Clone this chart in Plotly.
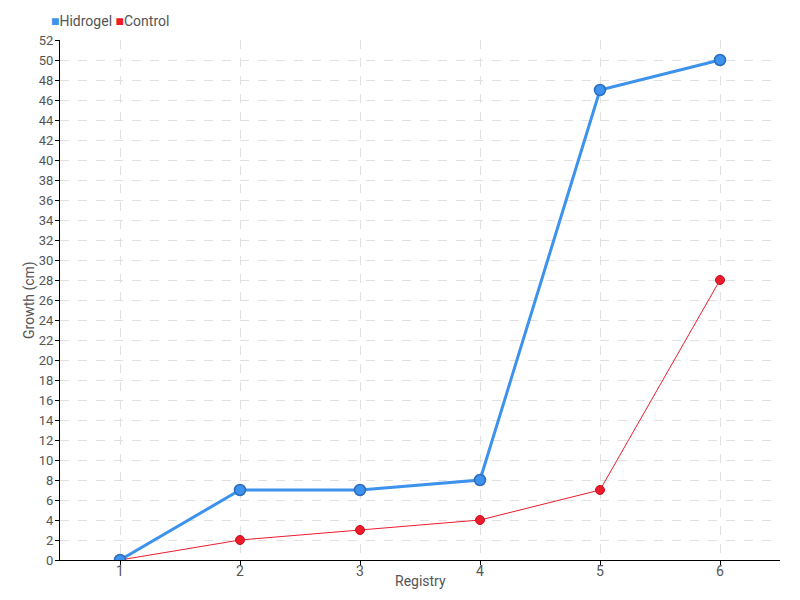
import plotly.graph_objects as go

registry = ["1", "2", "3", "4", "5", "6"]
hidrogel = [0, 7, 7, 8, 47, 50]
control = [0, 2, 3, 4, 7, 28]
series_names = ["Hidrogel", "Control"]
x_title = "Registry"
y_title = "Growth (cm)"

FONT = "Roboto, Liberation Sans, sans-serif"
BLUE = "#3c92ec"
RED = "#ec1c2c"
GRAY = "#555555"

fig = go.Figure()
fig.add_trace(go.Scatter(x=registry, y=control, mode="lines+markers", name=series_names[1],
                         line=dict(color=RED, width=1),
                         marker=dict(color=RED, size=9, line=dict(color="#c8101e", width=1)),
                         showlegend=False))
fig.add_trace(go.Scatter(x=registry, y=hidrogel, mode="lines+markers", name=series_names[0],
                         line=dict(color=BLUE, width=3),
                         marker=dict(color=BLUE, size=11, line=dict(color="#2c6cbf", width=1.5)),
                         showlegend=False))

legend_text = (f"<span style='color:{BLUE}'>■</span>{series_names[0]} "
               f"<span style='color:{RED}'>■</span>{series_names[1]}")
fig.add_annotation(text=legend_text, xref="paper", yref="paper", x=-0.015, y=1.0,
                   xanchor="left", yanchor="bottom", yshift=9, showarrow=False,
                   font=dict(family=FONT, size=14, color=GRAY))
fig.add_annotation(text=x_title, xref="paper", yref="paper", x=0.5, y=0,
                   xanchor="center", yanchor="middle", yshift=-21, showarrow=False,
                   font=dict(family=FONT, size=14, color=GRAY))
fig.add_annotation(text=y_title, xref="paper", yref="paper", x=0, y=0.5,
                   xanchor="center", yanchor="middle", xshift=-31, textangle=-90,
                   showarrow=False, font=dict(family=FONT, size=14, color=GRAY))

# page body has an 8px margin; compensate so the plot area lands at 60..780 x 40..560
fig.update_layout(
    width=792, height=592,
    margin=dict(l=52, r=20, t=32, b=40),
    paper_bgcolor="white", plot_bgcolor="white",
    font=dict(family=FONT, size=14, color=GRAY),
    showlegend=False,
    xaxis=dict(
        type="category", range=[-0.5, 5.5], automargin=False,
        showline=True, linecolor="black", linewidth=1,
        ticks="outside", ticklen=4, tickcolor="black",
        ticklabelstandoff=-6, tickfont=dict(size=14),
        showgrid=True, gridcolor="#e0e0e0", griddash="dash",
        zeroline=False,
    ),
    yaxis=dict(
        range=[0, 52], dtick=2, automargin=False,
        showline=True, linecolor="black", linewidth=1,
        ticks="outside", ticklen=4, tickcolor="black",
        ticklabelstandoff=-1, tickfont=dict(size=13),
        showgrid=True, gridcolor="#e0e0e0", griddash="dash",
        zeroline=False,
    ),
)

fig.write_html("out.html")
